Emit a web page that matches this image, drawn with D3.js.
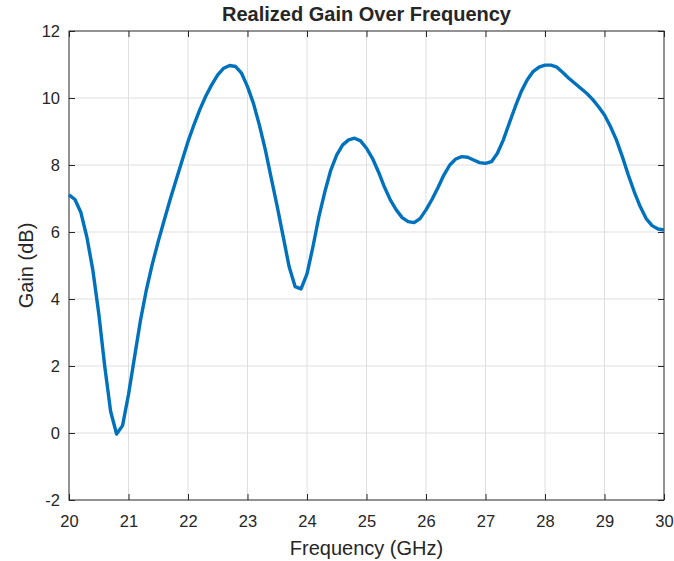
<!DOCTYPE html>
<html>
<head>
<meta charset="utf-8">
<script src="https://cdn.jsdelivr.net/npm/d3@7"></script>
<style>
  body { margin: 0; background: #fff; }
  text { font-family: "Liberation Sans", Arial, Helvetica, sans-serif; fill: #262626; }
</style>
</head>
<body>
<script>
// frequency samples (GHz) and realized gain (dB)
const freq = [20.0,20.1,20.2,20.3,20.4,20.5,20.6,20.7,20.8,20.9,
  21.0,21.1,21.2,21.3,21.4,21.5,21.6,21.7,21.8,21.9,
  22.0,22.1,22.2,22.3,22.4,22.5,22.6,22.7,22.8,22.9,
  23.0,23.1,23.2,23.3,23.4,23.5,23.6,23.7,23.8,23.9,
  24.0,24.1,24.2,24.3,24.4,24.5,24.6,24.7,24.8,24.9,
  25.0,25.1,25.2,25.3,25.4,25.5,25.6,25.7,25.8,25.9,
  26.0,26.1,26.2,26.3,26.4,26.5,26.6,26.7,26.8,26.9,
  27.0,27.1,27.2,27.3,27.4,27.5,27.6,27.7,27.8,27.9,
  28.0,28.1,28.2,28.3,28.4,28.5,28.6,28.7,28.8,28.9,
  29.0,29.1,29.2,29.3,29.4,29.5,29.6,29.7,29.8,29.9,30.0];
const gain = [7.11,6.97,6.58,5.85,4.87,3.57,2.0,0.64,-0.03,0.22,
  1.15,2.25,3.35,4.27,5.04,5.72,6.35,6.97,7.55,8.13,
  8.7,9.2,9.66,10.06,10.4,10.69,10.89,10.97,10.94,10.74,
  10.34,9.84,9.19,8.45,7.6,6.76,5.86,4.96,4.37,4.3,
  4.75,5.56,6.46,7.2,7.85,8.3,8.6,8.75,8.8,8.72,
  8.5,8.2,7.8,7.35,6.96,6.66,6.43,6.31,6.28,6.4,
  6.66,6.97,7.32,7.7,8.0,8.18,8.25,8.23,8.15,8.07,
  8.05,8.1,8.35,8.75,9.25,9.74,10.19,10.54,10.79,10.92,
  10.98,10.98,10.92,10.76,10.59,10.44,10.29,10.14,9.96,9.74,
  9.49,9.15,8.75,8.25,7.7,7.2,6.76,6.4,6.19,6.09,6.06];
const xTicks = [20,21,22,23,24,25,26,27,28,29,30];
const yTicks = [-2,0,2,4,6,8,10,12];

const W = 674, H = 561;
const m = {left: 69, right: 10, top: 31, bottom: 61};
const iw = W - m.left - m.right, ih = H - m.top - m.bottom;

const svg = d3.select("body").append("svg")
  .attr("width", W).attr("height", H);

const x = d3.scaleLinear().domain([20, 30]).range([0, iw]);
const y = d3.scaleLinear().domain([-2, 12]).range([ih, 0]);

const g = svg.append("g").attr("transform", `translate(${m.left},${m.top})`);

// grid
g.append("g").selectAll("line").data(xTicks.slice(1, -1)).join("line")
  .attr("x1", d => x(d)).attr("x2", d => x(d))
  .attr("y1", 0).attr("y2", ih)
  .attr("stroke", "#dfdfdf").attr("stroke-width", 1);
g.append("g").selectAll("line").data(yTicks.slice(1, -1)).join("line")
  .attr("x1", 0).attr("x2", iw)
  .attr("y1", d => y(d)).attr("y2", d => y(d))
  .attr("stroke", "#dfdfdf").attr("stroke-width", 1);

// axes, ticks pointing inward (plain hyphen for negatives, like the original)
const tickLen = 6;
const fmt = d => String(d);
const xAxis = g.append("g").attr("transform", `translate(0,${ih})`)
  .call(d3.axisBottom(x).tickValues(xTicks).tickFormat(fmt).tickSizeInner(-tickLen).tickSizeOuter(0).tickPadding(15.5));
const yAxis = g.append("g")
  .call(d3.axisLeft(y).tickValues(yTicks).tickFormat(fmt).tickSizeInner(-tickLen).tickSizeOuter(0).tickPadding(9));
const xTop = g.append("g")
  .call(d3.axisTop(x).tickValues(xTicks).tickSizeInner(-tickLen).tickSizeOuter(0).tickFormat(""));
const yRight = g.append("g").attr("transform", `translate(${iw},0)`)
  .call(d3.axisRight(y).tickValues(yTicks).tickSizeInner(-tickLen).tickSizeOuter(0).tickFormat(""));

[xAxis, yAxis, xTop, yRight].forEach(a => {
  a.select(".domain").remove();
  a.selectAll("line").attr("stroke", "#262626");
  a.selectAll("text").style("font-size", "16.5px")
    .style("font-family", "'Liberation Sans', Arial, sans-serif").attr("fill", "#262626");
});

// box
g.append("rect").attr("width", iw).attr("height", ih)
  .attr("fill", "none").attr("stroke", "#262626").attr("stroke-width", 1);

// curve
const line = d3.line().x((d, i) => x(freq[i])).y(d => y(d));
g.append("path").datum(gain)
  .attr("d", line)
  .attr("fill", "none")
  .attr("stroke", "#0072bd")
  .attr("stroke-width", 3.4)
  .attr("stroke-linejoin", "round");

// title and labels
svg.append("text").attr("x", m.left + iw / 2).attr("y", 21)
  .attr("text-anchor", "middle").style("font-size", "20px").style("font-weight", "bold")
  .attr("fill", "#000").text("Realized Gain Over Frequency");
svg.append("text").attr("x", m.left + iw / 2).attr("y", 555)
  .attr("text-anchor", "middle").style("font-size", "20px")
  .text("Frequency (GHz)");
svg.append("text")
  .attr("transform", `translate(33,${m.top + ih / 2}) rotate(-90)`)
  .attr("text-anchor", "middle").style("font-size", "20px")
  .text("Gain (dB)");
</script>
</body>
</html>
